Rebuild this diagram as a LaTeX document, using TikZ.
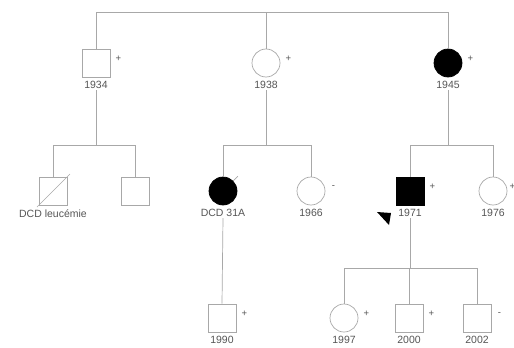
\documentclass[tikz,border=0pt]{standalone}
\usepackage{fontspec}
\setmainfont{Liberation Sans}
\usetikzlibrary{positioning}
\definecolor{linegray}{HTML}{A8A8A8}
\definecolor{txtgray}{HTML}{555555}
\tikzset{
  man/.style={draw=linegray, rectangle, minimum size=28pt, inner sep=0pt, line width=.7pt},
  woman/.style={draw=linegray, circle, minimum size=28pt, inner sep=0pt, line width=.7pt},
  ill/.style={fill=black, draw=black},
  year/.style={text=txtgray, font=\fontsize{10.5}{12}\selectfont, inner sep=1pt},
  sgn/.style={text=txtgray, font=\fontsize{9.5}{10}\selectfont, inner sep=0pt},
  link/.style={draw=linegray, line width=.7pt},
}
\begin{document}
\begin{tikzpicture}[x=1pt, y=-1pt]
\useasboundingbox (0,0) rectangle (514,348);
% first generation
\node[man] (a1) at (96,63) {};
\node[woman] (a2) at (266,63) {};
\node[woman, ill] (a3) at (448,63) {};
\node[year, below=3pt of a1] (a1y) {1934};
\node[year, below=3pt of a2] (a2y) {1938};
\node[year, below=3pt of a3] (a3y) {1945};
\node[sgn] at ([xshift=8pt, yshift=4pt]a1.east) {+};
\node[sgn] at ([xshift=8pt, yshift=4pt]a2.east) {+};
\node[sgn] at ([xshift=8pt, yshift=4pt]a3.east) {+};
% second generation
\node[man] (b1) at (53,191) {};
\node[man] (b2) at (135,191) {};
\node[woman, ill] (b3) at (223,191) {};
\node[woman] (b4) at (311,191) {};
\node[man, ill] (b5) at (410,191) {};
\node[woman] (b6) at (493,191) {};
\node[year, below=3pt of b1] (b1y) {DCD leucémie};
\node[year, below=3pt of b3] (b3y) {DCD 31A};
\node[year, below=3pt of b4] (b4y) {1966};
\node[year, below=3pt of b5] (b5y) {1971};
\node[year, below=3pt of b6] (b6y) {1976};
\node[sgn] at ([xshift=8pt, yshift=4pt]b4.east) {-};
\node[sgn] at ([xshift=8pt, yshift=4pt]b5.east) {+};
\node[sgn] at ([xshift=5pt, yshift=4pt]b6.east) {+};
% third generation
\node[man] (c1) at (222,318) {};
\node[woman] (c2) at (344,318) {};
\node[man] (c3) at (409,318) {};
\node[man] (c4) at (477,318) {};
\node[year, below=3pt of c1] (c1y) {1990};
\node[year, below=3pt of c2] (c2y) {1997};
\node[year, below=3pt of c3] (c3y) {2000};
\node[year, below=3pt of c4] (c4y) {2002};
\node[sgn] at ([xshift=8pt, yshift=4pt]c1.east) {+};
\node[sgn] at ([xshift=8pt, yshift=4pt]c2.east) {+};
\node[sgn] at ([xshift=8pt, yshift=4pt]c3.east) {+};
\node[sgn] at ([xshift=8pt, yshift=4pt]c4.east) {-};
% sibship lines
\coordinate (top) at (266,12);
\coordinate (s1) at (94,145);
\coordinate (s2) at (267,145);
\coordinate (s3) at (451,145);
\coordinate (s4) at (410,268);
\draw[link] (a1.north) -- (a1.north |- top) -- (a3.north |- top) -- (a3.north);
\draw[link] (a2.north) -- (a2.north |- top);
\draw[link] (a1y.south) -- (a1y.south |- s1);
\draw[link] (b1.north) -- (b1.north |- s1) -- (b2.north |- s1) -- (b2.north);
\draw[link] (a2y.south) -- (a2y.south |- s2);
\draw[link] (b3.north) -- (b3.north |- s2) -- (b4.north |- s2) -- (b4.north);
\draw[link] (a3y.south) -- (a3y.south |- s3);
\draw[link] (b5.north) -- (b5.north |- s3) -- (b6.north |- s3) -- (b6.north);
\draw[link] (b3y.south) -- (c1.north);
\draw[link] (b5y.south) -- (b5y.south |- s4);
\draw[link] (c2.north) -- (c2.north |- s4) -- (c4.north |- s4) -- (c4.north);
\draw[link] (c3.north) -- (c3.north |- s4);
% deceased
\draw[link] ([shift={(-16pt,-16pt)}]b1.center) -- ([shift={(17pt,17pt)}]b1.center);
\draw[link] ([shift={(45:14pt)}]b3.center) -- ([shift={(45:21pt)}]b3.center);
% proband
\fill (377,212) -- (391,213) -- (389,225) -- cycle;
\end{tikzpicture}
\end{document}
